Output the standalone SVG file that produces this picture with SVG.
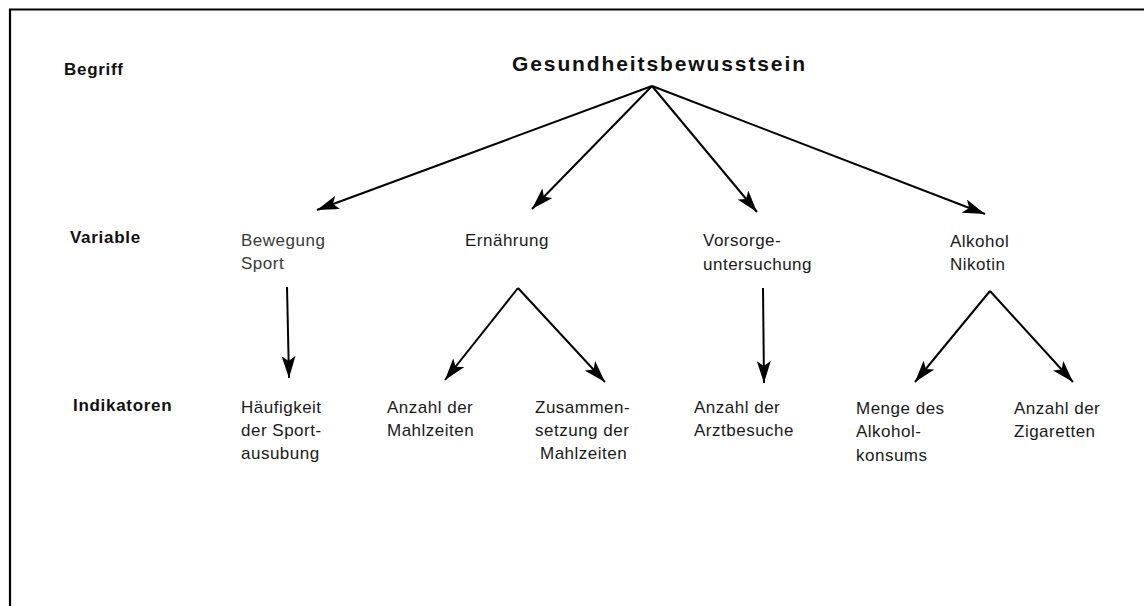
<svg xmlns="http://www.w3.org/2000/svg" width="1144" height="606" viewBox="0 0 1144 606">
  <defs>
    <style>
      .lbl { font-family: "Liberation Sans", "DejaVu Sans", sans-serif; font-weight: bold; font-size: 17px; fill: #111; letter-spacing: 0.7px; }
      .title { font-family: "Liberation Sans", "DejaVu Sans", sans-serif; font-weight: bold; font-size: 21px; fill: #111; }
      .txt { font-family: "Liberation Sans", "DejaVu Sans", sans-serif; font-size: 17px; fill: #1a1a1a; letter-spacing: 0.5px; }
      .grey { fill: #3a3a3a; }
      .conn { stroke: #000; stroke-width: 2; fill: none; marker-end: url(#ah); }
    </style>
    <marker id="ah" viewBox="0 0 22 14" markerWidth="22" markerHeight="14" refX="22" refY="7" orient="auto" markerUnits="userSpaceOnUse">
      <path d="M0,0 L22,7 L0,14 L5,7 Z" fill="#000"/>
    </marker>
  </defs>
  <rect width="1144" height="606" fill="#fff"/>
  <g id="frame">
    <path d="M10,606 L10,9.5 L1144,9.5" stroke="#000" stroke-width="2.2" fill="none"/>
  </g>

  <g id="rowlabels">
    <text class="lbl" x="64" y="75">Begriff</text>
    <text class="lbl" x="70" y="243">Variable</text>
    <text class="lbl" x="73" y="411">Indikatoren</text>
  </g>

  <g id="n-gesundheitsbewusstsein">
    <text class="title" x="512" y="71" textLength="293" lengthAdjust="spacing">Gesundheitsbewusstsein</text>
  </g>

  <g id="n-bewegung">
    <text class="txt grey" x="241" y="246">Bewegung</text>
    <text class="txt grey" x="241" y="269">Sport</text>
  </g>
  <g id="n-ernaehrung">
    <text class="txt" x="465" y="246">Ernährung</text>
  </g>
  <g id="n-vorsorge">
    <text class="txt" x="703" y="246">Vorsorge-</text>
    <text class="txt" x="703" y="270">untersuchung</text>
  </g>
  <g id="n-alkohol">
    <text class="txt" x="950" y="247">Alkohol</text>
    <text class="txt" x="950" y="270">Nikotin</text>
  </g>

  <g id="n-haeufigkeit">
    <text class="txt" x="241" y="413">Häufigkeit</text>
    <text class="txt" x="241" y="436">der Sport-</text>
    <text class="txt" x="241" y="459">ausubung</text>
  </g>
  <g id="n-anzahl-mahlzeiten">
    <text class="txt" x="387" y="413">Anzahl der</text>
    <text class="txt" x="387" y="436">Mahlzeiten</text>
  </g>
  <g id="n-zusammensetzung">
    <text class="txt" x="535" y="413">Zusammen-</text>
    <text class="txt" x="535" y="436">setzung der</text>
    <text class="txt" x="540" y="459">Mahlzeiten</text>
  </g>
  <g id="n-arztbesuche">
    <text class="txt" x="694" y="413">Anzahl der</text>
    <text class="txt" x="694" y="436">Arztbesuche</text>
  </g>
  <g id="n-alkoholkonsum">
    <text class="txt" x="856" y="414">Menge des</text>
    <text class="txt" x="856" y="437">Alkohol-</text>
    <text class="txt" x="856" y="461">konsums</text>
  </g>
  <g id="n-zigaretten">
    <text class="txt" x="1014" y="414">Anzahl der</text>
    <text class="txt" x="1014" y="437">Zigaretten</text>
  </g>

  <g id="connectors">
    <line class="conn" x1="652" y1="86" x2="317" y2="210"/>
    <line class="conn" x1="652" y1="86" x2="532" y2="209"/>
    <line class="conn" x1="652" y1="86" x2="757" y2="212"/>
    <line class="conn" x1="652" y1="86" x2="985" y2="214"/>
    <line class="conn" x1="287" y1="287" x2="289" y2="378"/>
    <line class="conn" x1="518" y1="288" x2="445" y2="380"/>
    <line class="conn" x1="518" y1="288" x2="605" y2="382"/>
    <line class="conn" x1="763" y1="288" x2="764" y2="383"/>
    <line class="conn" x1="990" y1="291" x2="915" y2="382"/>
    <line class="conn" x1="990" y1="291" x2="1073" y2="382"/>
  </g>
</svg>
